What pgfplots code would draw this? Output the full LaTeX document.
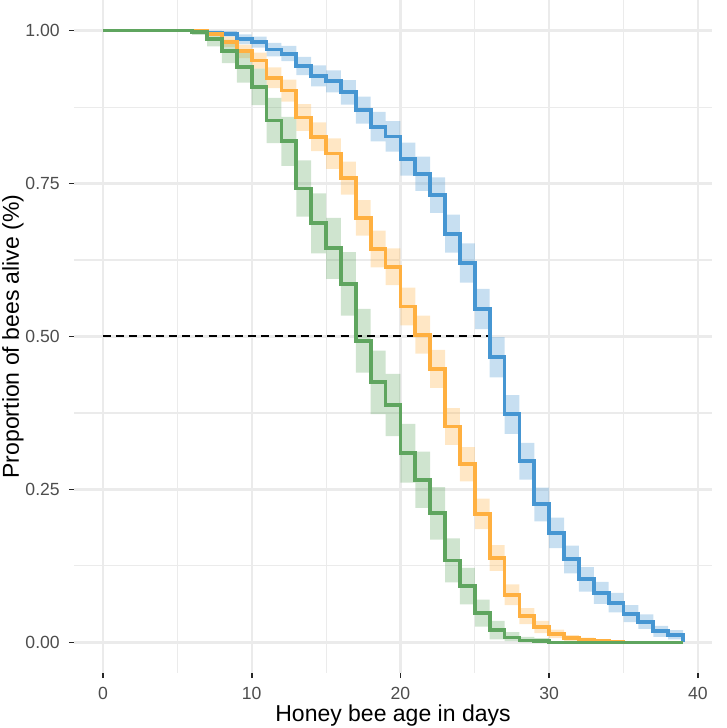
\documentclass[border=0pt]{standalone}
\usepackage{fontspec}
\setmainfont{Liberation Sans}
\usepackage{pgfplots}
\pgfplotsset{compat=1.18}
\usepackage{pgfplotstable}
\definecolor{cblue}{RGB}{70,150,210}
\definecolor{corange}{RGB}{255,176,64}
\definecolor{cgreen}{RGB}{95,165,95}
\definecolor{tickgray}{RGB}{77,77,77}
\definecolor{gridgray}{RGB}{235,235,235}

% survival estimates
\pgfplotstableread{
d s
0 1
5 1
6 0.998
7 0.986
8 0.966
9 0.940
10 0.908
11 0.853
12 0.819
13 0.742
14 0.685
15 0.644
16 0.586
17 0.493
18 0.425
19 0.388
20 0.309
21 0.266
22 0.211
23 0.134
24 0.092
25 0.048
26 0.020
27 0.008
28 0.003
29 0.002
30 0
39 0
}\tgreen

\pgfplotstableread{
d s
0 1
6 1
7 0.995
8 0.981
9 0.966
10 0.951
11 0.923
12 0.902
13 0.858
14 0.826
15 0.799
16 0.759
17 0.694
18 0.643
19 0.614
20 0.549
21 0.503
22 0.447
23 0.353
24 0.291
25 0.210
26 0.138
27 0.078
28 0.043
29 0.025
30 0.014
31 0.007
32 0.004
33 0.002
34 0.001
35 0
39 0
}\torange

\pgfplotstableread{
d s
0 1
5 1
6 0.999
7 0.997
8 0.995
9 0.986
10 0.981
11 0.969
12 0.962
13 0.942
14 0.926
15 0.917
16 0.899
17 0.870
18 0.843
19 0.827
20 0.790
21 0.766
22 0.731
23 0.668
24 0.620
25 0.545
26 0.466
27 0.373
28 0.296
29 0.226
30 0.179
31 0.136
32 0.103
33 0.081
34 0.065
35 0.047
36 0.034
37 0.018
38 0.0125
39 0
}\tblue

% confidence bands: upper limits forward, then lower limits backward
\pgfplotstableread{
x y
5 1
6 1.000
7 0.998
8 0.985
9 0.965
10 0.938
11 0.890
12 0.859
13 0.788
14 0.734
15 0.694
16 0.638
17 0.545
18 0.477
19 0.439
20 0.357
21 0.312
22 0.254
23 0.170
24 0.122
25 0.070
26 0.035
27 0.017
28 0.009
29 0.007
30 0
30 0.000
29 0.000
28 0.002
27 0.005
26 0.026
25 0.062
24 0.098
23 0.168
22 0.220
21 0.261
20 0.337
19 0.373
18 0.441
17 0.534
16 0.594
15 0.636
14 0.696
13 0.779
12 0.816
11 0.878
10 0.915
9 0.947
8 0.974
7 0.993
6 1
5 1
}\bgreen

\pgfplotstableread{
x y
6 1
7 0.999
8 0.990
9 0.977
10 0.964
11 0.940
12 0.920
13 0.880
14 0.850
15 0.824
16 0.786
17 0.723
18 0.673
19 0.644
20 0.580
21 0.534
22 0.478
23 0.383
24 0.319
25 0.235
26 0.159
27 0.095
28 0.056
29 0.035
30 0.021
31 0.012
32 0.008
33 0.005
34 0.003
35 0
35 0
34 0
33 0
32 0.002
31 0.007
30 0.015
29 0.030
28 0.061
27 0.117
26 0.185
25 0.263
24 0.323
23 0.416
22 0.472
21 0.518
20 0.584
19 0.613
18 0.665
17 0.732
16 0.774
15 0.803
14 0.836
13 0.884
12 0.906
11 0.938
10 0.955
9 0.973
8 0.991
7 1
6 1
}\borange

\pgfplotstableread{
x y
5 1
6 1.000
7 1.000
8 0.999
9 0.994
10 0.990
11 0.980
12 0.975
13 0.957
14 0.943
15 0.935
16 0.919
17 0.892
18 0.867
19 0.852
20 0.817
21 0.794
22 0.760
23 0.699
24 0.652
25 0.578
26 0.499
27 0.404
28 0.326
29 0.253
30 0.204
31 0.158
32 0.123
33 0.099
34 0.081
35 0.061
36 0.046
37 0.027
38 0.020
39 0
39 0.005
38 0.009
37 0.022
36 0.033
35 0.049
34 0.063
33 0.083
32 0.113
31 0.154
30 0.198
29 0.266
28 0.341
27 0.433
26 0.512
25 0.588
24 0.637
23 0.702
22 0.738
21 0.763
20 0.802
19 0.819
18 0.848
17 0.879
16 0.899
15 0.909
14 0.927
13 0.950
12 0.958
11 0.972
10 0.978
9 0.990
8 0.993
7 0.997
6 1
5 1
}\bblue

\begin{document}
\begin{tikzpicture}
\useasboundingbox (-37pt,-27.5pt) rectangle (326.5pt,336.5pt);
\begin{axis}[
  at={(0,0)}, anchor=south west,
  scale only axis, width=319pt, height=336.5pt,
  xmin=-1.95, xmax=40.95, ymin=-0.05, ymax=1.05,
  xtick={0,10,20,30,40}, xticklabels={0,10,20,30,40},
  minor xtick={5,15,25,35},
  ytick={0,0.25,0.5,0.75,1}, yticklabels={0.00,0.25,0.50,0.75,1.00},
  minor ytick={0.125,0.375,0.625,0.875},
  grid=both,
  major grid style={draw=gridgray, line width=1.1pt},
  minor grid style={draw=gridgray, line width=0.55pt},
  axis x line*=bottom, axis y line*=left,
  axis line style={draw=none},
  tick align=outside, major tick length=2.6pt, minor tick length=0pt,
  tick style={color=black!85, line width=0.8pt},
  ticklabel style={font=\fontsize{8.8}{10}\selectfont, text=tickgray},
  xticklabel style={yshift=-1pt},
  yticklabel style={xshift=-1pt},
  xlabel={Honey bee age in days},
  ylabel={Proportion of bees alive (\%)},
  xlabel style={font=\fontsize{11.5}{13}\selectfont, at={(axis description cs:0.5,-0.0639)}, anchor=center},
  ylabel style={font=\fontsize{11.5}{13}\selectfont, at={(axis description cs:-0.0956,0.5)}, anchor=center},
]
% confidence ribbons
\addplot[const plot, fill=cblue, fill opacity=0.3, draw=none, forget plot] table[x=x,y=y]{\bblue};
\addplot[const plot, fill=corange, fill opacity=0.3, draw=none, forget plot] table[x=x,y=y]{\borange};
\addplot[const plot, fill=cgreen, fill opacity=0.3, draw=none, forget plot] table[x=x,y=y]{\bgreen};
% median line
\addplot[black, line width=1pt, dash pattern=on 4pt off 2.6pt] coordinates {(0,0.5) (26,0.5)};
% survival curves
\addplot[const plot, cblue, line width=1.9pt] table[x=d,y=s]{\tblue};
\addplot[const plot, corange, line width=1.9pt] table[x=d,y=s]{\torange};
\addplot[const plot, cgreen, line width=1.9pt] table[x=d,y=s]{\tgreen};
\end{axis}
\end{tikzpicture}
\end{document}
